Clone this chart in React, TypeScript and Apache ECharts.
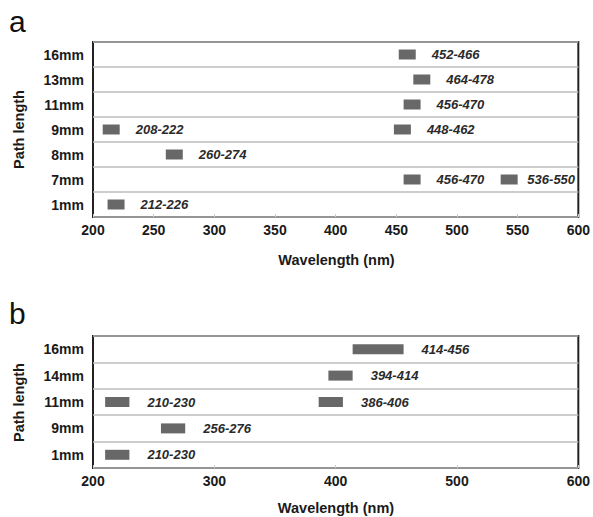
import React, { useEffect, useRef } from "react";
import * as echarts from "echarts";

// Panel a
const aCategories = ["1mm", "7mm", "8mm", "9mm", "11mm", "13mm", "16mm"];
const aRows = ["16mm", "13mm", "11mm", "9mm", "9mm", "8mm", "7mm", "7mm", "1mm"];
const aStart = [452, 464, 456, 208, 448, 260, 456, 536, 212];
const aEnd = [466, 478, 470, 222, 462, 274, 470, 550, 226];

// Panel b
const bCategories = ["1mm", "9mm", "11mm", "14mm", "16mm"];
const bRows = ["16mm", "14mm", "11mm", "11mm", "9mm", "1mm"];
const bStart = [414, 394, 210, 386, 256, 210];
const bEnd = [456, 414, 230, 406, 276, 230];

const xMin = 200;
const xMax = 600;
const aInterval = 50;
const bInterval = 100;

const FONT = '"Liberation Sans", Arial, Helvetica, sans-serif';
const BAR_COLOR = "#686868";

function makeRenderItem(gap: number) {
  return (params: any, api: any) => {
    const cat = api.value(0);
    const s = api.value(1);
    const e = api.value(2);
    const p0 = api.coord([s, cat]);
    const p1 = api.coord([e, cat]);
    const h = 10;
    const text = `${s}-${e}`;
    const estW = text.length * 6.85;
    const cs = params.coordSys;
    const rightLimit = cs.x + cs.width - 3;
    let tx = p1[0] + gap;
    if (tx + estW > rightLimit) tx = Math.max(p1[0] + 8, rightLimit - estW);
    return {
      type: "group",
      children: [
        {
          type: "rect",
          shape: { x: p0[0], y: p0[1] - h / 2, width: p1[0] - p0[0], height: h },
          style: { fill: BAR_COLOR },
        },
        {
          type: "text",
          x: tx,
          y: p0[1],
          style: {
            text,
            fill: "#2a2a2a",
            fontFamily: FONT,
            fontStyle: "italic",
            fontWeight: "bold",
            fontSize: 13,
            align: "left",
            verticalAlign: "middle",
          },
        },
      ],
    };
  };
}

export default function App() {
  const ref = useRef<HTMLDivElement>(null);
  useEffect(() => {
    document.body.style.margin = "0";
    const chart = echarts.init(ref.current!, undefined, { renderer: "svg" });
    const xAxisBase = (gridIndex: number, interval: number) => ({
      type: "value",
      gridIndex,
      min: xMin,
      max: xMax,
      interval,
      axisLine: { show: false },
      axisTick: { show: true, inside: true, length: 3, lineStyle: { color: "#cccccc" } },
      splitLine: { show: false },
      axisLabel: {
        color: "#1a1a1a",
        fontFamily: FONT,
        fontWeight: "bold",
        fontSize: 14,
        margin: 6,
      },
    });
    const yAxisBase = (gridIndex: number, cats: string[]) => ({
      type: "category",
      gridIndex,
      data: cats,
      axisLine: { show: false },
      axisTick: { show: false },
      splitLine: { show: true, lineStyle: { color: "#bdbdbd", width: 1.5 } },
      axisLabel: {
        color: "#1a1a1a",
        fontFamily: FONT,
        fontWeight: "bold",
        fontSize: 14,
        margin: 9,
      },
    });
    const titleText = (text: string, x: number, y: number, rotation = 0) => ({
      type: "text",
      x,
      y,
      rotation,
      style: {
        text,
        fill: "#1a1a1a",
        fontFamily: FONT,
        fontWeight: "bold",
        fontSize: 14.5,
        align: "center",
        verticalAlign: "middle",
      },
    });
    const letter = (text: string, x: number, y: number) => ({
      type: "text",
      x,
      y,
      style: {
        text,
        fill: "#111",
        fontFamily: FONT,
        fontSize: 30,
        align: "left",
        verticalAlign: "middle",
      },
    });
    chart.setOption({
      animation: false,
      backgroundColor: "#ffffff",
      grid: [
        { left: 93, top: 42, width: 487, height: 175, show: true, borderColor: "#222", borderWidth: 2, backgroundColor: "transparent" },
        { left: 93, top: 336, width: 486, height: 132, show: true, borderColor: "#222", borderWidth: 2, backgroundColor: "transparent" },
      ],
      xAxis: [xAxisBase(0, aInterval), xAxisBase(1, bInterval)],
      yAxis: [yAxisBase(0, aCategories), yAxisBase(1, bCategories)],
      series: [
        {
          type: "custom",
          xAxisIndex: 0,
          yAxisIndex: 0,
          encode: { x: [1, 2], y: 0 },
          renderItem: makeRenderItem(16),
          data: aRows.map((r, i) => [r, aStart[i], aEnd[i]]),
          clip: false,
        },
        {
          type: "custom",
          xAxisIndex: 1,
          yAxisIndex: 1,
          encode: { x: [1, 2], y: 0 },
          renderItem: makeRenderItem(18),
          data: bRows.map((r, i) => [r, bStart[i], bEnd[i]]),
          clip: false,
        },
      ],
      graphic: [
        letter("a", 9, 21.5),
        letter("b", 9, 313.5),
        titleText("Path length", 19, 129.5, Math.PI / 2),
        titleText("Path length", 19, 402.5, Math.PI / 2),
        titleText("Wavelength (nm)", 336.5, 260),
        titleText("Wavelength (nm)", 336, 507.5),
      ],
    });
    return () => chart.dispose();
  }, []);
  return (
    <div
      ref={ref}
      style={{ position: "fixed", left: 0, top: 0, width: 593, height: 517, background: "#fff" }}
    />
  );
}
